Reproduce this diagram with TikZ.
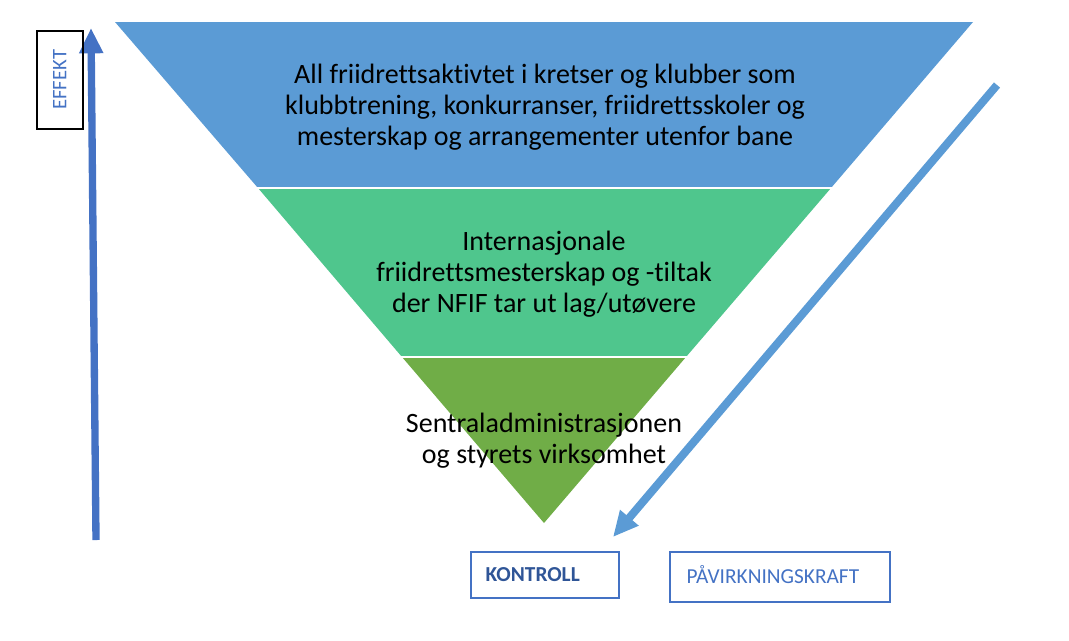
\documentclass[tikz,border=0pt]{standalone}
\usepackage{fontspec}
\setmainfont{Carlito}[Ligatures=NoCommon]
\usetikzlibrary{arrows.meta}
\definecolor{topblue}{HTML}{5B9BD5}
\definecolor{midgreen}{HTML}{4FC68D}
\definecolor{botgreen}{HTML}{70AD47}
\definecolor{arrblue}{HTML}{4472C4}
\definecolor{darkblue}{HTML}{2F5597}
\tikzset{
  bandtext/.style={align=center, font=\fontsize{21}{23.3}\selectfont, text=black},
  labelbox/.style={draw=arrblue, line width=1.2pt, minimum height=34.5pt, anchor=north west, inner sep=0pt},
}
\begin{document}
\begin{tikzpicture}[x=0.75pt,y=-0.75pt]
\useasboundingbox (0,0) rectangle (1069,640);
% triangle bands
\fill[topblue] (115,22) -- (973,22) -- (831,188) -- (258,188) -- cycle;
\fill[midgreen] (258,188) -- (831,188) -- (686,357) -- (402,357) -- cycle;
\fill[botgreen] (402,357) -- (686,357) -- (544,523) -- cycle;
\draw[white, line width=1.5pt] (255,188) -- (834,188);
\draw[white, line width=1.5pt] (399,357) -- (689,357);
% texts
\node[bandtext] (t1) at (545,107) {All friidrettsaktivtet i kretser og klubber som\\klubbtrening, konkurranser, friidrettsskoler og\\mesterskap og arrangementer utenfor bane};
\node[bandtext] (t2) at (544,274) {Internasjonale\\friidrettsmesterskap og -tiltak\\der NFIF tar ut lag/utøvere};
\node[bandtext] (t3) at (544,441) {Sentraladministrasjonen\\og styrets virksomhet};
% left arrow
\coordinate (l0) at (96,540);
\coordinate (l1) at (91,28);
\draw[arrblue, line width=5.5pt, -{Triangle[length=19pt,width=17pt]}] (l0) -- (l1);
% EFFEKT box
\node[draw=black, line width=1.2pt, minimum width=34.5pt, minimum height=73.5pt, anchor=north west, inner sep=0pt] (eff) at (36,30) {};
\node[rotate=90, text=arrblue, font=\fontsize{15.5}{17}\selectfont] (efft) at (eff.center) {EFFEKT};
% right arrow
\coordinate (r0) at (997,85);
\coordinate (r1) at (613,537);
\draw[topblue, line width=6pt, -{Triangle[length=19pt,width=17pt]}] (r0) -- (r1);
% label boxes
\node[labelbox, minimum width=111pt] (kon) at (470,551) {};
\node[anchor=west, text=darkblue, font=\bfseries\fontsize{16}{18}\selectfont] (kont) at (481,575) {KONTROLL};
\node[labelbox, minimum width=165pt, minimum height=37.5pt] (pav) at (669,551) {};
\node[anchor=west, text=arrblue, font=\fontsize{16}{18}\selectfont] (pavt) at (682,575) {PÅVIRKNINGSKRAFT};
\end{tikzpicture}
\end{document}
